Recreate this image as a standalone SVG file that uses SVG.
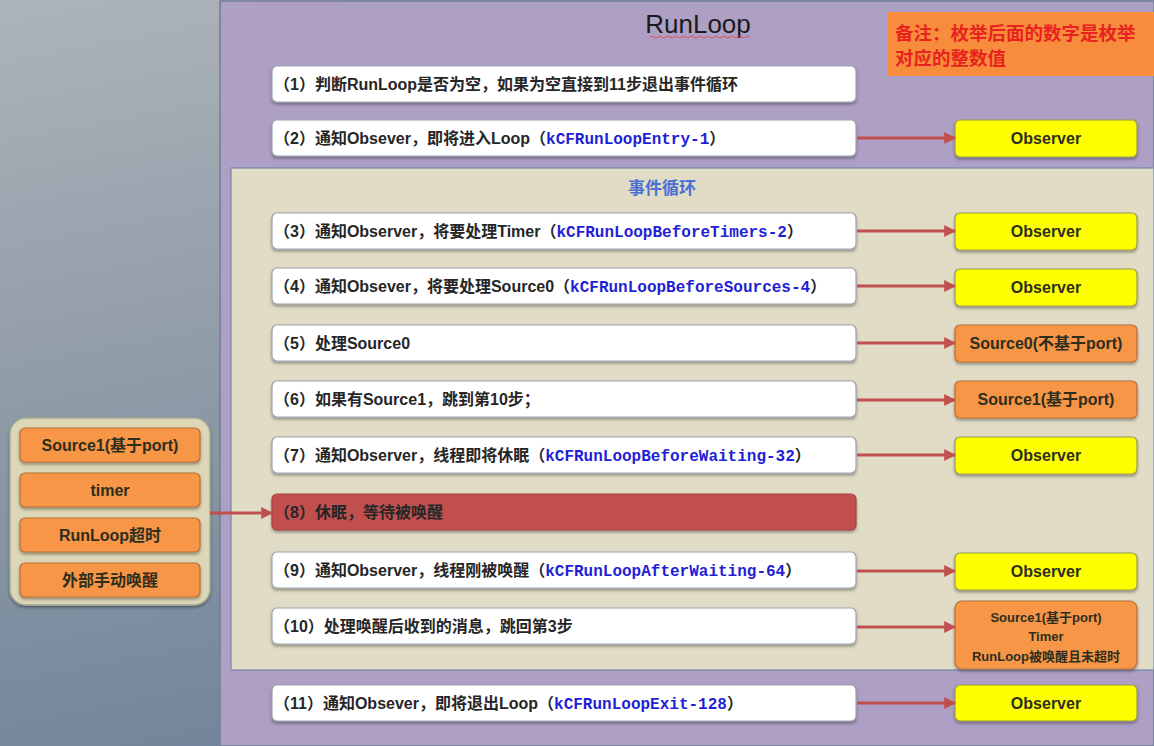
<svg xmlns="http://www.w3.org/2000/svg" width="1154" height="746" viewBox="0 0 1154 746">
  <defs>
    <linearGradient id="bgGrad" x1="0" y1="0" x2="0.3" y2="1">
      <stop offset="0" stop-color="#adb3ba"/>
      <stop offset="0.5" stop-color="#8f9ba7"/>
      <stop offset="1" stop-color="#72849a"/>
    </linearGradient>
    <filter id="shadow" x="-5%" y="-20%" width="110%" height="150%">
      <feDropShadow dx="0" dy="2" stdDeviation="1.5" flood-color="#000" flood-opacity="0.35"/>
    </filter>
    <marker id="arrow" viewBox="0 0 10 10" refX="9" refY="5" markerWidth="4" markerHeight="4" orient="auto" markerUnits="strokeWidth">
      <path d="M0,0 L10,5 L0,10 z" fill="#c0504d"/>
    </marker>
    <style>
      .row { fill: #ffffff; stroke: #9ea3ad; stroke-width: 1.2; }
      .sleep { fill: #c0504d; stroke: #a8433f; stroke-width: 1.2; }
      .obs { fill: #ffff00; stroke: #9a9a50; stroke-width: 1.2; }
      .src { fill: #f79646; stroke: #b8703a; stroke-width: 1.2; }
      .t { font-family: "Liberation Sans", "Noto Sans CJK SC", sans-serif; font-size: 16px; font-weight: bold; fill: #262626; }
      .code { font-family: "Liberation Mono", "DejaVu Sans Mono", monospace; font-size: 16px; font-weight: bold; fill: #1f1fd6; }
      .lab { font-family: "Liberation Sans", "Noto Sans CJK SC", sans-serif; font-size: 16px; font-weight: bold; fill: #2e2e1e; text-anchor: middle; }
      .small { font-family: "Liberation Sans", "Noto Sans CJK SC", sans-serif; font-size: 13px; font-weight: bold; fill: #2e2e1e; text-anchor: middle; }
      .conn { stroke: #c0504d; stroke-width: 3; fill: none; marker-end: url(#arrow); }
    </style>
  </defs>

  <!-- backgrounds -->
  <rect x="0" y="0" width="1154" height="746" fill="url(#bgGrad)"/>
  <rect id="runloop-panel" x="220" y="1" width="934" height="745" fill="#ae9fc5" stroke="#6f7f95" stroke-width="1.5"/>
  <rect id="event-loop-panel" x="231" y="168" width="923" height="502" fill="#e0dcc6" stroke="#6f86a8" stroke-width="1.2"/>

  <g id="title">
    <text x="698" y="33" font-family="Liberation Sans, sans-serif" font-size="26" fill="#1a1a1a" text-anchor="middle">RunLoop</text>
    <path d="M650,37 q2,-2 4,0 t4,0 t4,0 t4,0 t4,0 t4,0 t4,0 t4,0 t4,0 t4,0 t4,0 t4,0 t4,0 t4,0 t4,0 t4,0 t4,0 t4,0 t4,0 t4,0 t4,0 t4,0 t4,0 t4,0 t4,0" fill="none" stroke="#e04040" stroke-width="0.8"/>
  </g>
  <g id="event-loop-title">
    <text x="662" y="194" font-family="Liberation Sans, 'Noto Sans CJK SC', sans-serif" font-size="17" font-weight="bold" fill="#4a6fd3" text-anchor="middle">事件循环</text>
  </g>

  <g id="note">
    <rect x="888" y="12" width="266" height="64" fill="#f78c3c"/>
    <text font-family="'Noto Sans CJK SC', sans-serif" font-size="18.5" font-weight="bold" fill="#e8231f">
      <tspan x="895" y="40">备注：枚举后面的数字是枚举</tspan>
      <tspan x="895" y="65">对应的整数值</tspan>
    </text>
  </g>

  <!-- steps -->
  <g id="step1"><rect class="row" x="272" y="66" width="584" height="36" rx="5" filter="url(#shadow)"/><text class="t" x="274" y="90">（1）判断RunLoop是否为空，如果为空直接到11步退出事件循环</text></g>
  <g id="step2"><rect class="row" x="272" y="120" width="584" height="36" rx="5" filter="url(#shadow)"/><text class="t" x="274" y="144">（2）通知Obsever，即将进入Loop（<tspan class="code">kCFRunLoopEntry-1</tspan>）</text></g>
  <g id="step3"><rect class="row" x="272" y="213" width="584" height="36" rx="5" filter="url(#shadow)"/><text class="t" x="274" y="237">（3）通知Observer，将要处理Timer（<tspan class="code">kCFRunLoopBeforeTimers-2</tspan>）</text></g>
  <g id="step4"><rect class="row" x="272" y="268" width="584" height="36" rx="5" filter="url(#shadow)"/><text class="t" x="274" y="292">（4）通知Obsever，将要处理Source0（<tspan class="code">kCFRunLoopBeforeSources-4</tspan>）</text></g>
  <g id="step5"><rect class="row" x="272" y="325" width="584" height="36" rx="5" filter="url(#shadow)"/><text class="t" x="274" y="349">（5）处理Source0</text></g>
  <g id="step6"><rect class="row" x="272" y="381" width="584" height="36" rx="5" filter="url(#shadow)"/><text class="t" x="274" y="405">（6）如果有Source1，跳到第10步；</text></g>
  <g id="step7"><rect class="row" x="272" y="437" width="584" height="36" rx="5" filter="url(#shadow)"/><text class="t" x="274" y="461">（7）通知Observer，线程即将休眠（<tspan class="code">kCFRunLoopBeforeWaiting-32</tspan>）</text></g>
  <g id="step8"><rect class="sleep" x="272" y="494" width="584" height="36" rx="5" filter="url(#shadow)"/><text class="t" x="274" y="518">（8）休眠，等待被唤醒</text></g>
  <g id="step9"><rect class="row" x="272" y="552" width="584" height="36" rx="5" filter="url(#shadow)"/><text class="t" x="274" y="576">（9）通知Observer，线程刚被唤醒（<tspan class="code">kCFRunLoopAfterWaiting-64</tspan>）</text></g>
  <g id="step10"><rect class="row" x="272" y="608" width="584" height="36" rx="5" filter="url(#shadow)"/><text class="t" x="274" y="632">（10）处理唤醒后收到的消息，跳回第3步</text></g>
  <g id="step11"><rect class="row" x="272" y="685" width="584" height="36" rx="5" filter="url(#shadow)"/><text class="t" x="274" y="709">（11）通知Obsever，即将退出Loop（<tspan class="code">kCFRunLoopExit-128</tspan>）</text></g>

  <!-- right targets -->
  <g id="obs2"><rect class="obs" x="955" y="120" width="182" height="37" rx="5" filter="url(#shadow)"/><text class="lab" x="1046" y="144">Observer</text></g>
  <g id="obs3"><rect class="obs" x="955" y="213" width="182" height="37" rx="5" filter="url(#shadow)"/><text class="lab" x="1046" y="237">Observer</text></g>
  <g id="obs4"><rect class="obs" x="955" y="269" width="182" height="37" rx="5" filter="url(#shadow)"/><text class="lab" x="1046" y="293">Observer</text></g>
  <g id="src0"><rect class="src" x="955" y="325" width="182" height="37" rx="5" filter="url(#shadow)"/><text class="lab" x="1046" y="349">Source0(不基于port)</text></g>
  <g id="src1"><rect class="src" x="955" y="381" width="182" height="37" rx="5" filter="url(#shadow)"/><text class="lab" x="1046" y="405">Source1(基于port)</text></g>
  <g id="obs7"><rect class="obs" x="955" y="437" width="182" height="37" rx="5" filter="url(#shadow)"/><text class="lab" x="1046" y="461">Observer</text></g>
  <g id="obs9"><rect class="obs" x="955" y="553" width="182" height="37" rx="5" filter="url(#shadow)"/><text class="lab" x="1046" y="577">Observer</text></g>
  <g id="wake"><rect class="src" x="955" y="601" width="182" height="68" rx="7" filter="url(#shadow)"/>
    <text class="small" x="1046" y="622">Source1(基于port)</text>
    <text class="small" x="1046" y="641">Timer</text>
    <text class="small" x="1046" y="661">RunLoop被唤醒且未超时</text>
  </g>
  <g id="obs11"><rect class="obs" x="955" y="685" width="182" height="36" rx="5" filter="url(#shadow)"/><text class="lab" x="1046" y="709">Observer</text></g>

  <!-- left wake sources -->
  <g id="wake-sources">
    <rect x="10" y="418" width="200" height="187" rx="16" fill="#dcd7b6" stroke="#a4ab93" stroke-width="1.5" filter="url(#shadow)"/>
    <rect class="src" x="20" y="428" width="180" height="34" rx="5" filter="url(#shadow)"/><text class="lab" x="110" y="451">Source1(基于port)</text>
    <rect class="src" x="20" y="473" width="180" height="34" rx="5" filter="url(#shadow)"/><text class="lab" x="110" y="496">timer</text>
    <rect class="src" x="20" y="518" width="180" height="34" rx="5" filter="url(#shadow)"/><text class="lab" x="110" y="541">RunLoop超时</text>
    <rect class="src" x="20" y="563" width="180" height="34" rx="5" filter="url(#shadow)"/><text class="lab" x="110" y="586">外部手动唤醒</text>
  </g>

  <!-- connectors -->
  <g id="connectors">
    <line class="conn" x1="857" y1="138" x2="955" y2="138"/>
    <line class="conn" x1="857" y1="231" x2="955" y2="231"/>
    <line class="conn" x1="857" y1="286" x2="955" y2="286"/>
    <line class="conn" x1="857" y1="343" x2="955" y2="343"/>
    <line class="conn" x1="857" y1="400" x2="955" y2="400"/>
    <line class="conn" x1="857" y1="455" x2="955" y2="455"/>
    <line class="conn" x1="857" y1="571" x2="955" y2="571"/>
    <line class="conn" x1="857" y1="627" x2="955" y2="627"/>
    <line class="conn" x1="857" y1="703" x2="955" y2="703"/>
    <line class="conn" x1="210" y1="513" x2="272" y2="513"/>
  </g>
</svg>
